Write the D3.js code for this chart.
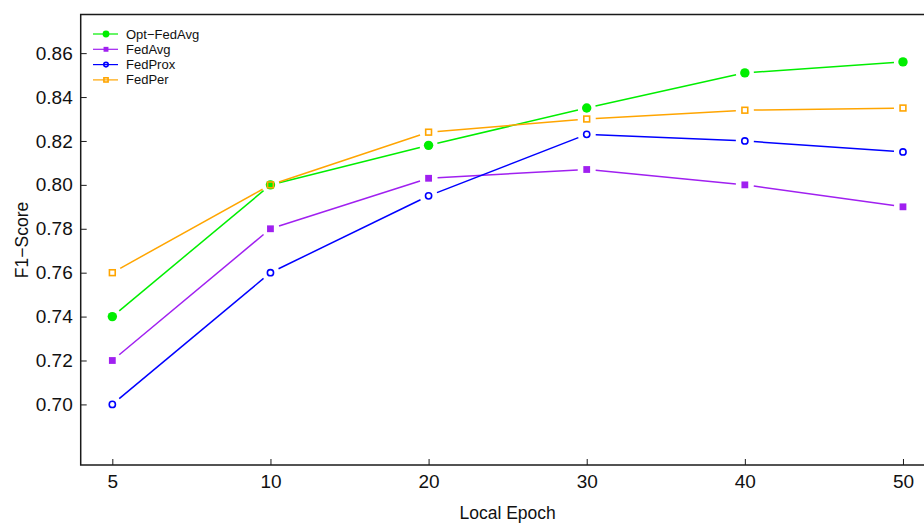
<!DOCTYPE html>
<html>
<head>
<meta charset="utf-8">
<script src="https://cdn.jsdelivr.net/npm/d3@7"></script>
<style>
  html, body { margin: 0; padding: 0; background: #fff; }
  svg { display: block; }
  text { font-family: "Liberation Sans", Arial, Helvetica, sans-serif; fill: #111; }
</style>
</head>
<body>
<svg id="chart" width="924" height="523"></svg>
<script>
// Local epoch settings on the x axis
const epochs = ["5", "10", "20", "30", "40", "50"];

// F1-score per method
const optFedAvg = [0.740, 0.800, 0.818, 0.835, 0.851, 0.856];
const fedAvg    = [0.720, 0.780, 0.803, 0.807, 0.800, 0.790];
const fedProx   = [0.700, 0.760, 0.795, 0.823, 0.820, 0.815];
const fedPer    = [0.760, 0.800, 0.824, 0.830, 0.834, 0.835];

const yTicks = [0.70, 0.72, 0.74, 0.76, 0.78, 0.80, 0.82, 0.84, 0.86];
const yDomain = [0.6724, 0.8776];

const series = [
  { name: "Opt\u2212FedAvg", values: optFedAvg, color: "#00EE00", shape: "dot" },
  { name: "FedAvg",          values: fedAvg,    color: "#A020F0", shape: "fsquare" },
  { name: "FedProx",         values: fedProx,   color: "#0000FF", shape: "ocircle" },
  { name: "FedPer",          values: fedPer,    color: "#FFA500", shape: "osquare" }
];

const svg = d3.select("#chart");
const plotL = 80.7, plotR = 934.6, plotT = 14.5, plotB = 465;

const x = d3.scalePoint().domain(epochs).range([plotL, plotR]).padding(0.2);
const y = d3.scaleLinear().domain(yDomain).range([plotB, plotT]);

// Plot frame (right edge falls outside the canvas)
svg.append("rect")
  .attr("x", plotL).attr("y", plotT)
  .attr("width", plotR - plotL).attr("height", plotB - plotT)
  .attr("fill", "none").attr("stroke", "#1a1a1a").attr("stroke-width", 1.5);

// Axes with inward ticks
const xAxis = svg.append("g")
  .attr("transform", `translate(0,${plotB})`)
  .call(d3.axisBottom(x).tickSizeInner(-6).tickSizeOuter(0).tickPadding(5));
xAxis.select(".domain").remove();
xAxis.selectAll(".tick line").attr("stroke", "#1a1a1a").attr("stroke-width", 1);
xAxis.selectAll(".tick text").attr("font-size", 19).attr("dy", "0.93em")
  .style("font-family", "Liberation Sans, Arial, sans-serif").attr("fill", "#111");

const yAxis = svg.append("g")
  .attr("transform", `translate(${plotL},0)`)
  .call(d3.axisLeft(y).tickValues(yTicks).tickFormat(d3.format(".2f"))
    .tickSizeInner(-6).tickSizeOuter(0).tickPadding(8));
yAxis.select(".domain").remove();
yAxis.selectAll(".tick line").attr("stroke", "#1a1a1a").attr("stroke-width", 1);
yAxis.selectAll(".tick text").attr("font-size", 19)
  .style("font-family", "Liberation Sans, Arial, sans-serif").attr("fill", "#111");

// Axis titles
svg.append("text")
  .attr("x", (plotL + plotR) / 2).attr("y", 519)
  .attr("text-anchor", "middle").attr("font-size", 17.5)
  .text("Local Epoch");
svg.append("text")
  .attr("transform", "translate(28,240) rotate(-90)")
  .attr("text-anchor", "middle").attr("font-size", 17.5)
  .text("F1\u2212Score");

// Marker drawing helper
function marker(g, shape, color, cx, cy, s) {
  if (shape === "dot") {
    g.append("circle").attr("cx", cx).attr("cy", cy).attr("r", 4.7 * s).attr("fill", color);
  } else if (shape === "fsquare") {
    const h = 3.4 * s;
    g.append("rect").attr("x", cx - h).attr("y", cy - h).attr("width", 2 * h).attr("height", 2 * h)
      .attr("fill", color);
  } else if (shape === "ocircle") {
    g.append("circle").attr("cx", cx).attr("cy", cy).attr("r", 3.1 * s)
      .attr("fill", "none").attr("stroke", color).attr("stroke-width", 1.6);
  } else {
    const h = 2.9 * s;
    g.append("rect").attr("x", cx - h).attr("y", cy - h).attr("width", 2 * h).attr("height", 2 * h)
      .attr("fill", "none").attr("stroke", color).attr("stroke-width", 1.6);
  }
}

// Lines with gaps around each point, then the points
const gap = 9;
series.forEach(s => {
  const g = svg.append("g");
  const pts = s.values.map((v, i) => [x(epochs[i]), y(v)]);
  for (let i = 0; i < pts.length - 1; i++) {
    const [x0, y0] = pts[i], [x1, y1] = pts[i + 1];
    const len = Math.hypot(x1 - x0, y1 - y0);
    const ux = (x1 - x0) / len, uy = (y1 - y0) / len;
    g.append("line")
      .attr("x1", x0 + ux * gap).attr("y1", y0 + uy * gap)
      .attr("x2", x1 - ux * gap).attr("y2", y1 - uy * gap)
      .attr("stroke", s.color).attr("stroke-width", 1.5);
  }
  pts.forEach(([cx, cy]) => marker(g, s.shape, s.color, cx, cy, 1));
});

// Legend
const legend = svg.append("g");
series.forEach((s, i) => {
  const ly = 34 + i * 15.3;
  legend.append("line").attr("x1", 93).attr("x2", 118).attr("y1", ly).attr("y2", ly)
    .attr("stroke", s.color).attr("stroke-width", 1.2);
  marker(legend, s.shape, s.color, 106, ly, 0.72);
  legend.append("text").attr("x", 126).attr("y", ly).attr("dy", "0.35em")
    .attr("font-size", 13).text(s.name);
});
</script>
</body>
</html>
